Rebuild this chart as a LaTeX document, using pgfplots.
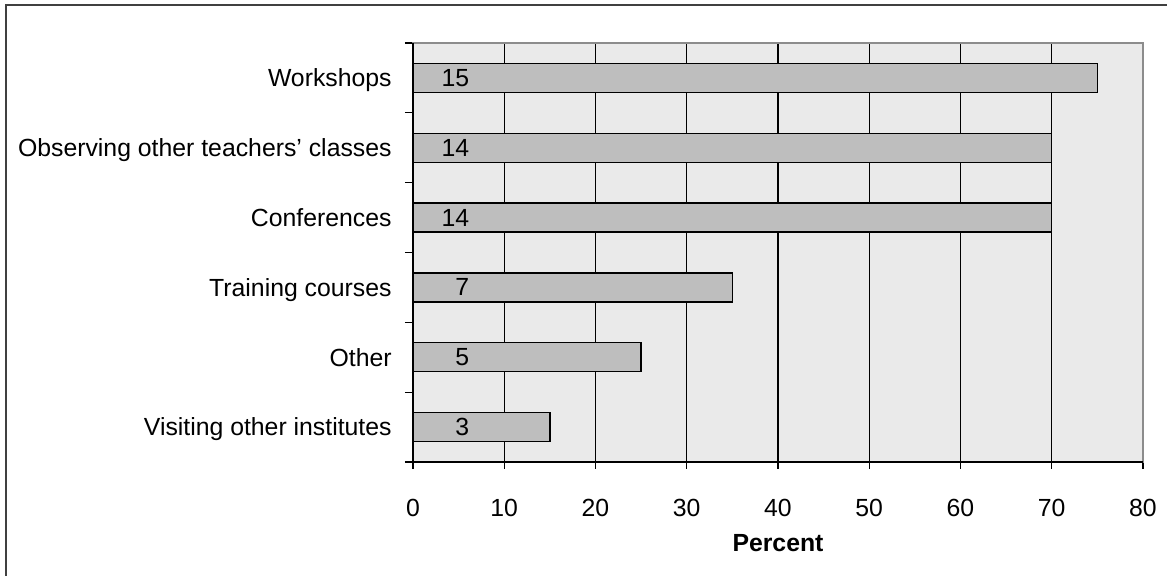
\documentclass[border=0pt]{standalone}
\usepackage{pgfplots}
\usepackage{pgfplotstable}
\pgfplotsset{compat=1.18}
\usepackage{fontspec}
\setmainfont{Liberation Sans}
\definecolor{bg}{HTML}{EAEAEA}
\definecolor{barfill}{HTML}{BEBEBE}
\definecolor{boxgray}{HTML}{8C8C8C}
\definecolor{framecol}{HTML}{404040}
\pgfplotstableread{
y v n lx
5 75 15 6.2
4 70 14 6.2
3 70 14 6.2
2 35 7 6.2
1 25 5 6.2
0 15 3 6.2
}\data
\begin{document}
\fontsize{12.4}{14}\selectfont
\begin{tikzpicture}
\useasboundingbox (0,0) rectangle (583.5pt,288pt);
\draw[framecol, line width=1pt] (2.75pt,0) -- (2.75pt,285.25pt) -- (583.5pt,285.25pt);
\begin{axis}[
  at={(206.5pt,57pt)}, anchor=south west,
  scale only axis, width=365pt, height=209.5pt,
  xmin=0, xmax=80, ymin=-0.5, ymax=5.5,
  axis background/.style={fill=bg},
  axis line style={boxgray, line width=0.6pt},
  xtick={0,10,...,80},
  /pgf/number format/assume math mode=true,
  xmajorgrids, grid style={black, line width=0.6pt},
  ytick={0,...,5},
  yticklabels={Visiting other institutes\hspace{5pt}, Other, Training courses, Conferences\hspace{3.5pt}, Observing other teachers' classes, Workshops},
  minor ytick={-0.5,0.5,...,5.5},
  tick align=outside, xtick pos=bottom, ytick pos=left,
  major tick length=3.5pt, minor tick length=4pt,
  major y tick style={draw=none},
  minor y tick style={black, line width=0.65pt},
  x tick style={black, line width=0.65pt},
  yticklabel style={anchor=base east, inner sep=0pt, xshift=-7pt, yshift=-4.45pt},
  xticklabel style={anchor=center, inner sep=0pt, yshift=-19.5pt},
  xlabel={\textbf{Percent}},
  xlabel style={at={(axis description cs:0.5,0)}, anchor=center, inner sep=0pt, yshift=-40.5pt},
  clip=false,
]
\addplot[xbar, bar width=14.5pt, fill=barfill, draw=black, line width=0.65pt] table[x=v, y=y]{\data};
\addplot[only marks, mark=none, nodes near coords, point meta=explicit symbolic,
  every node near coord/.append style={anchor=east, inner sep=0pt}] table[x=lx, y=y, meta=n]{\data};
\draw[black, line width=0.65pt] (rel axis cs:0,1) -- (rel axis cs:0,0) -- (rel axis cs:1,0);
\end{axis}
\end{tikzpicture}
\end{document}
